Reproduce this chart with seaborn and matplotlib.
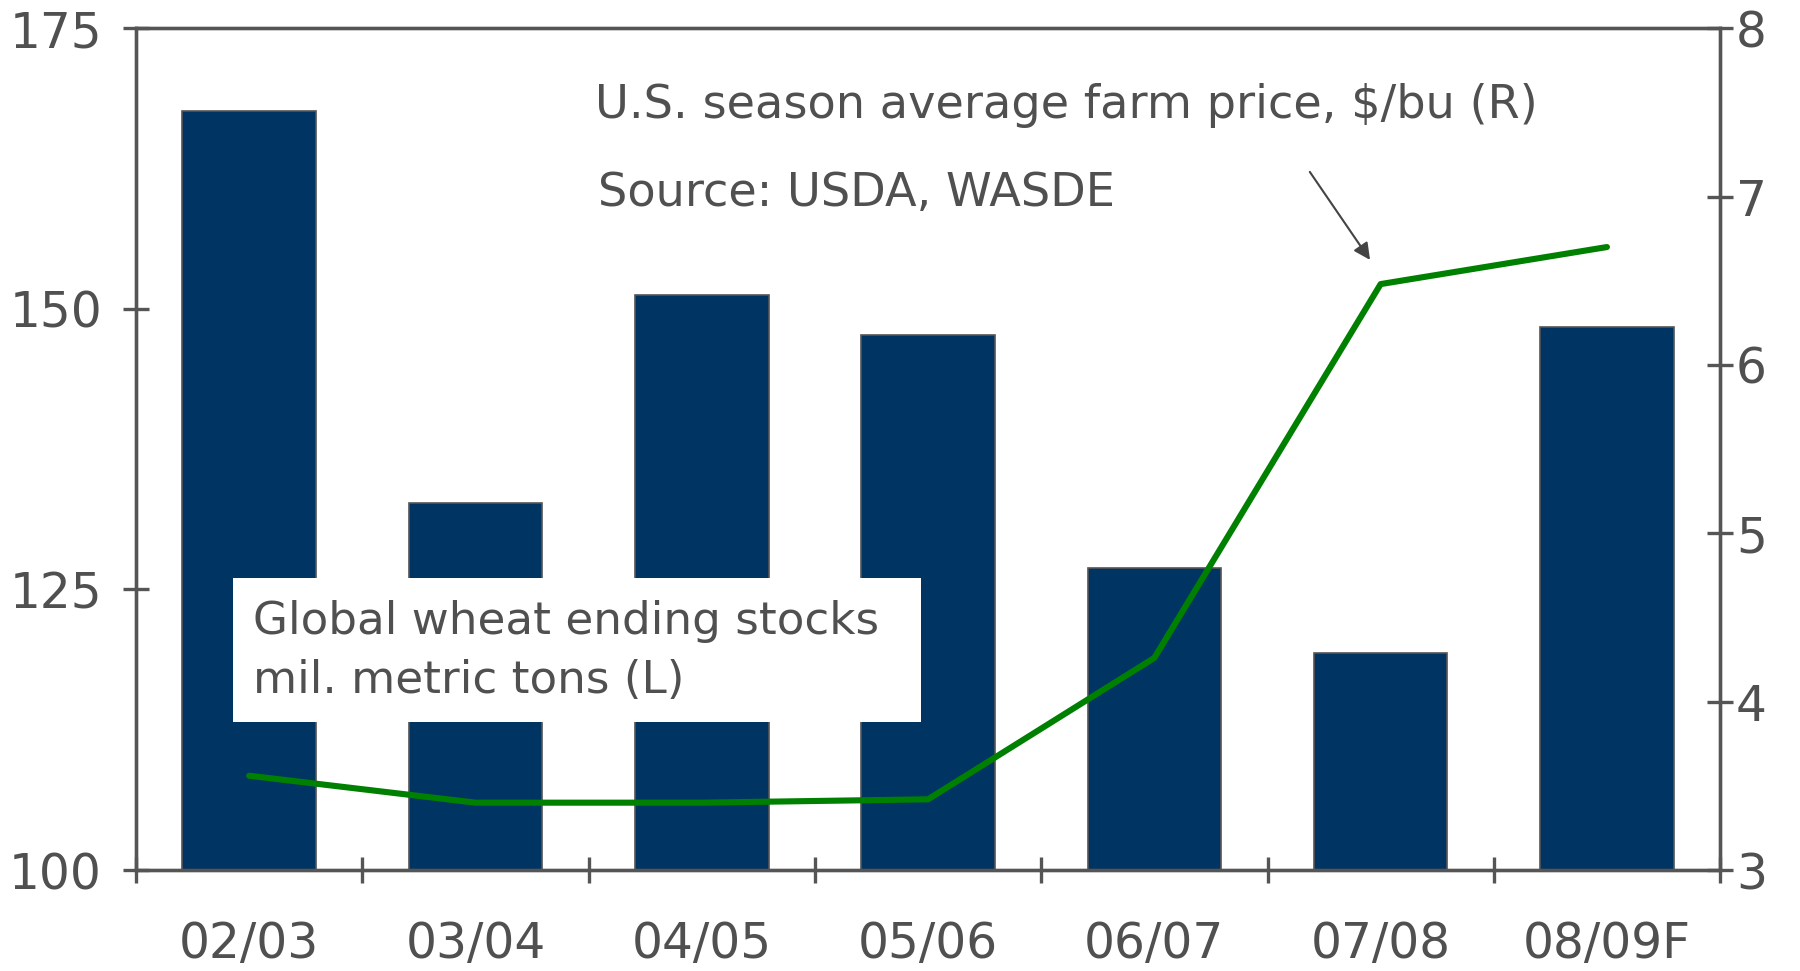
import numpy as np
import pandas as pd
import seaborn as sns
import matplotlib.pyplot as plt
from matplotlib.patches import Rectangle

seasons = ["02/03", "03/04", "04/05", "05/06", "06/07", "07/08", "08/09F"]
stocks = [167.6, 132.7, 151.2, 147.7, 126.9, 119.3, 148.4]
price = [3.56, 3.40, 3.40, 3.42, 4.26, 6.48, 6.70]

grey = "#555555"
txt = "#505050"
sns.set_theme(style="white")
plt.rcParams["font.family"] = ["DejaVu Sans"]

fig = plt.figure(figsize=(18, 9.71), dpi=100)
ax = fig.add_axes([0.0756, 0.104, 0.88, 0.867])

df = pd.DataFrame({"season": seasons, "stocks": stocks})
sns.barplot(data=df, x="season", y="stocks", color="#003463", saturation=1,
            width=0.59, edgecolor=grey, linewidth=1.2, ax=ax)
ax.set_ylim(100, 175)
ax.set_xlim(-0.5, 6.5)
ax.set_yticks([100, 125, 150, 175])
ax.set_xlabel("")
ax.set_ylabel("")

ax2 = ax.twinx()
sns.lineplot(x=np.arange(len(seasons)), y=price, color="#008000", linewidth=4.4, ax=ax2)
ax2.set_ylim(3, 8)
ax2.set_yticks([3, 4, 5, 6, 7, 8])

for a in (ax, ax2):
    for s in a.spines.values():
        s.set_color(grey)
        s.set_linewidth(2.4)
ax.tick_params(axis="y", direction="inout", length=19, width=2.4, color=grey,
               labelsize=35, labelcolor=txt, pad=15, left=True)
ax2.tick_params(axis="y", direction="inout", length=19, width=2.4, color=grey,
                labelsize=35, labelcolor=txt, pad=2, right=True)
ax.set_xticks(np.arange(-0.5, 7, 1), minor=True)
ax.tick_params(axis="x", which="minor", direction="inout", length=19, width=2.4,
               color=grey, bottom=True)
ax.tick_params(axis="x", which="major", length=0, labelsize=35, labelcolor=txt, pad=36)

# annotation for the price line
ax2.text(1.53, 7.54, "U.S. season average farm price, $/bu (R)", fontsize=33.3,
         color=txt, va="center", ha="left")
ax2.text(1.54, 7.02, "Source: USDA, WASDE", fontsize=33.3, color=txt,
         va="center", ha="left")
ax2.annotate("", xy=(4.96, 6.61), xytext=(4.68, 7.16),
             arrowprops=dict(arrowstyle="-|>", color="#444444", lw=1.5,
                             mutation_scale=25))
# white label box over the bars
ax.add_patch(Rectangle((-0.07, 113.2), 3.04, 12.8, facecolor="white",
                       edgecolor="none", zorder=4))
ax.text(0.018, 119.5, "Global wheat ending stocks\nmil. metric tons (L)", fontsize=32.6,
        color=txt, va="center", ha="left", linespacing=1.48, zorder=5)

fig.savefig("out.png", dpi=100)
